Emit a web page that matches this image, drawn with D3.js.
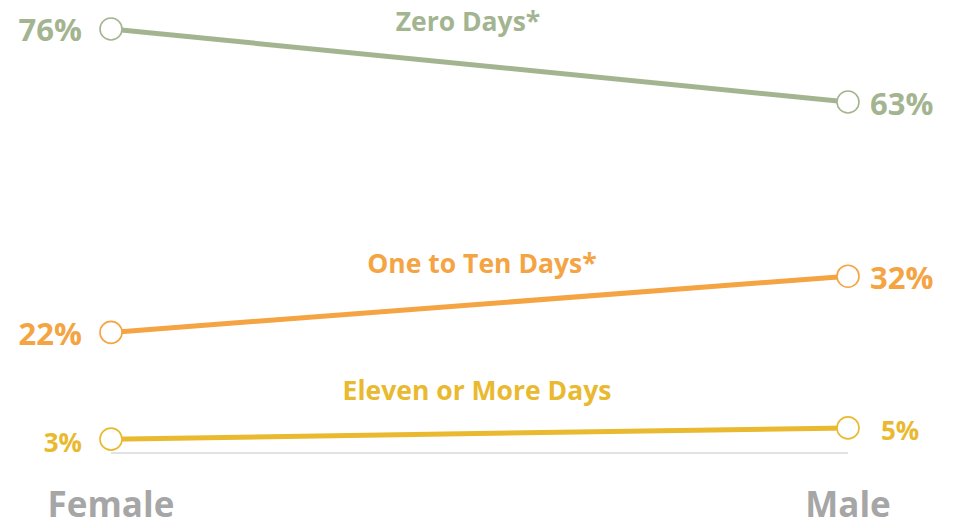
<!DOCTYPE html>
<html><head><meta charset="utf-8">
<script src="https://cdn.jsdelivr.net/npm/d3@7"></script>
<style>body{margin:0;background:#fff}svg{display:block}text{font-family:"Open Sans",sans-serif;font-weight:700}</style>
</head><body><svg id="c" width="955" height="528"></svg>
<script>
const categories = ["Female", "Male"];
const seriesNames = ["Zero Days*", "One to Ten Days*", "Eleven or More Days"];
const zeroDays = [76, 63];
const oneToTen = [22, 32];
const elevenPlus = [3, 5];
const colors = ["#a3b590", "#f4a443", "#e9b92f"];

const series = [zeroDays, oneToTen, elevenPlus].map((v, i) => ({name: seriesNames[i], values: v, color: colors[i]}));
const svg = d3.select("#c");
const x = d3.scalePoint().domain(categories).range([111, 848]);
const y = d3.scaleLinear().domain([0, 80]).range([456, 6.5]);

svg.append("line").attr("x1", x("Female")).attr("x2", x("Male")).attr("y1", 453).attr("y2", 453)
  .attr("stroke", "#d9d9d9").attr("stroke-width", 1.5);

const labelPos = [[468, 31], [482, 273], [477, 400]];
const valSize = [31, 31, 26];
const rightOffset = [22, 22, 33];

series.forEach((s, i) => {
  const g = svg.append("g");
  g.append("line").attr("x1", x(categories[0])).attr("y1", y(s.values[0]))
    .attr("x2", x(categories[1])).attr("y2", y(s.values[1]))
    .attr("stroke", s.color).attr("stroke-width", 5);
  categories.forEach((c, j) => {
    g.append("circle").attr("cx", x(c)).attr("cy", y(s.values[j])).attr("r", 11)
      .attr("fill", "#fff").attr("stroke", s.color).attr("stroke-width", 1.6);
    g.append("text").attr("x", j === 0 ? x(c) - 29 : x(c) + rightOffset[i]).attr("y", y(s.values[j]) + 12.5)
      .attr("text-anchor", j === 0 ? "end" : "start")
      .attr("font-size", valSize[i]).attr("fill", s.color).text(s.values[j] + "%");
  });
  g.append("text").attr("x", labelPos[i][0]).attr("y", labelPos[i][1])
    .attr("text-anchor", "middle").attr("font-size", 26.5).attr("fill", s.color).text(s.name);
});

svg.selectAll(".cat").data(categories).join("text").attr("class", "cat")
  .attr("x", d => x(d)).attr("y", 517).attr("text-anchor", "middle")
  .attr("font-size", 35).attr("fill", "#a6a6a6").text(d => d);
</script></body></html>
